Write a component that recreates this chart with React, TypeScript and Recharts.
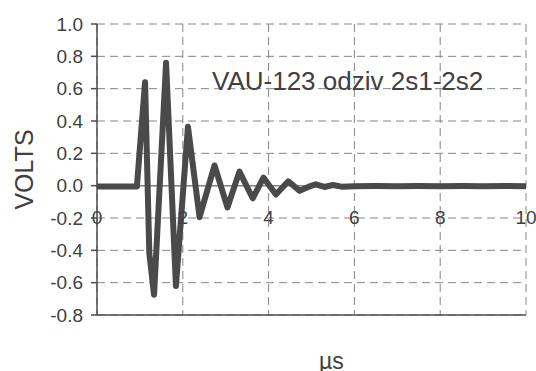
import React from 'react';
import { LineChart, Line, XAxis, YAxis, CartesianGrid, ReferenceLine } from 'recharts';

const timeUs = [0, 0.93, 1.12, 1.22, 1.33, 1.61, 1.84, 2.12, 2.39, 2.74, 3.04, 3.32, 3.63, 3.88, 4.17, 4.46, 4.72, 4.95, 5.1, 5.3, 5.5, 5.7, 6.0, 6.5, 7.0, 7.5, 8.0, 8.5, 9.0, 9.5, 10];
const volts = [-0.005, -0.005, 0.64, -0.42, -0.675, 0.76, -0.62, 0.365, -0.195, 0.125, -0.135, 0.087, -0.078, 0.05, -0.055, 0.027, -0.032, -0.005, 0.008, -0.008, 0.004, -0.006, -0.003, -0.002, -0.003, -0.002, -0.003, -0.002, -0.003, -0.002, -0.003];
const xTicks = [0, 2, 4, 6, 8, 10];
const yTicks = [-0.8, -0.6, -0.4, -0.2, 0, 0.2, 0.4, 0.6, 0.8, 1.0];
const title = 'VAU-123 odziv 2s1-2s2';
const xLabel = 'µs';
const yLabel = 'VOLTS';

const data = timeUs.map((t, i) => ({ t, v: volts[i] }));

const FONT = '"Liberation Sans", Arial, sans-serif';
const TEXT = '#404040';
const BORDER = '#4d4d4d';

const XTick = (props: any) => {
  const { x, y, payload } = props;
  return (
    <text x={x} y={y} dy={-93} textAnchor="middle" fill={TEXT} fontSize={19} fontFamily={FONT}>
      {payload.value}
    </text>
  );
};

export default function App() {
  return (
    <div style={{ position: 'absolute', left: 0, top: 0, width: 536, height: 371, background: '#fff' }}>
      <LineChart width={536} height={371} data={data} margin={{ top: 24, right: 10, bottom: 26, left: 0 }}>
        <CartesianGrid stroke="#858585" strokeDasharray="8 5" strokeWidth={1} />
        <XAxis
          dataKey="t"
          type="number"
          domain={[0, 10]}
          ticks={xTicks}
          tick={<XTick />}
          tickLine={false}
          tickSize={0}
          height={30}
          axisLine={{ stroke: BORDER, strokeWidth: 1.5 }}
          label={{ value: xLabel, position: 'bottom', offset: 8, dx: 20, fill: TEXT, fontSize: 23, fontFamily: FONT }}
        />
        <XAxis xAxisId="top" orientation="top" dataKey="t" type="number" domain={[0, 10]} tick={false} tickLine={false} height={0} axisLine={{ stroke: BORDER, strokeWidth: 1.5 }} />
        <YAxis
          type="number"
          domain={[-0.8, 1.0]}
          ticks={yTicks}
          interval={0}
          width={97}
          tickSize={6}
          tickMargin={8}
          tickFormatter={(v: number) => v.toFixed(1)}
          tick={{ fill: TEXT, fontSize: 19, fontFamily: FONT }}
          tickLine={{ stroke: BORDER, strokeWidth: 1.5 }}
          axisLine={{ stroke: BORDER, strokeWidth: 1.5 }}
          label={{ value: yLabel, angle: -90, position: 'insideLeft', offset: 24, style: { textAnchor: 'middle' }, fill: TEXT, fontSize: 25, fontFamily: FONT }}
        />
        <YAxis yAxisId="right" orientation="right" type="number" domain={[-0.8, 1.0]} tick={false} tickLine={false} width={0} axisLine={{ stroke: BORDER, strokeWidth: 1.5 }} />
        <ReferenceLine y={0} stroke="#858585" strokeWidth={1.5} />
        <Line
          type="linear"
          dataKey="v"
          stroke="#4a4a4a"
          strokeWidth={6}
          strokeLinejoin="round"
          dot={false}
          isAnimationActive={false}
        />
      </LineChart>
      <div
        style={{
          position: 'absolute',
          left: 212,
          top: 66,
          fontFamily: FONT,
          fontSize: 26,
          color: TEXT,
          whiteSpace: 'nowrap',
          lineHeight: '30px',
        }}
      >
        {title}
      </div>
    </div>
  );
}
